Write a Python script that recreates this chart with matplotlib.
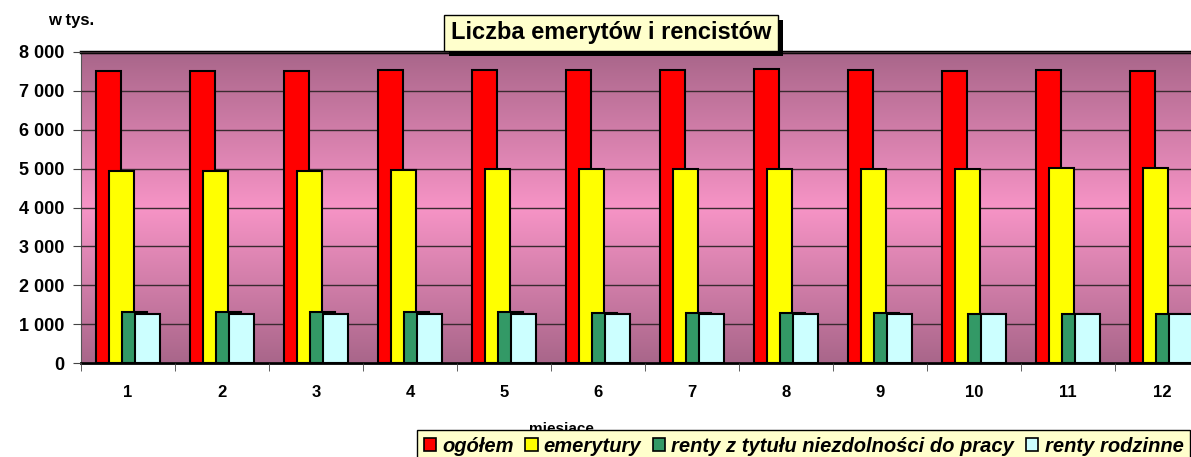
import numpy as np
import matplotlib.pyplot as plt
import matplotlib.patheffects as pe
from matplotlib.colors import LinearSegmentedColormap
from matplotlib.patches import Patch

# dane (w tys.)
miesiace = ["1", "2", "3", "4", "5", "6", "7", "8", "9", "10", "11", "12"]
ogolem = [7510, 7500, 7520, 7530, 7540, 7540, 7540, 7550, 7530, 7520, 7530, 7520]
emerytury = [4930, 4940, 4950, 4970, 4980, 4990, 4990, 5000, 5000, 5000, 5010, 5010]
renty_niezdolnosc = [1320, 1310, 1310, 1300, 1300, 1290, 1280, 1280, 1280, 1270, 1260, 1260]
renty_rodzinne = [1270, 1260, 1260, 1260, 1270, 1270, 1270, 1270, 1250, 1250, 1260, 1270]

serie = [ogolem, emerytury, renty_niezdolnosc, renty_rodzinne]
nazwy = ["ogółem", "emerytury", "renty z tytułu niezdolności do pracy", "renty rodzinne"]
kolory = ["#FF0000", "#FFFF00", "#339966", "#CCFFFF"]

plt.rcParams['font.family'] = ['Liberation Sans', 'DejaVu Sans']

fig = plt.figure(figsize=(11.91, 4.57), dpi=100)
ax = fig.add_axes([81/1191, 1 - 363/457, 1128/1191, 311/457])

# tło - gradient
cmap = LinearSegmentedColormap.from_list("tlo", ["#A9668A", "#F794C6", "#A9668A"])
grad = np.linspace(0, 1, 256).reshape(-1, 1)
ax.imshow(grad, cmap=cmap, aspect='auto', extent=[0, 12, 0, 8000],
          origin='lower', zorder=0, interpolation='bicubic')

x = np.arange(len(miesiace))
w = 0.266
step = 0.135
for i, (vals, kol, nazwa) in enumerate(zip(serie, kolory, nazwy)):
    pos = x + 0.5 + (i - 1.5) * step
    ax.bar(pos, vals, width=w, color=kol, edgecolor='black', linewidth=1.5,
           zorder=3 + i, label=nazwa)

ax.set_xlim(0, 12)
ax.set_ylim(0, 8000)
ax.set_yticks(range(0, 8001, 1000))
ax.set_yticklabels([f"{v:,}".replace(",", " ") for v in range(0, 8001, 1000)],
                   fontsize=13, fontweight='bold')
ax.yaxis.grid(True, color='#3a2a30', linewidth=1, zorder=1)
ax.set_axisbelow(False)

ax.set_xticks(x + 0.5)
ax.set_xticklabels(miesiace, fontsize=12, fontweight='bold')
ax.set_xticks(np.arange(0, 13), minor=True)
ax.tick_params(axis='x', which='major', length=0, pad=16)
ax.tick_params(axis='x', which='minor', length=6, color='#444444')
ax.tick_params(axis='y', length=6, color='#444444', pad=6)

ax.spines['right'].set_visible(False)
ax.spines['top'].set_linewidth(2.5)
ax.spines['bottom'].set_linewidth(2)
ax.spines['left'].set_color('#555555')

ax.set_xlabel("miesiące", fontsize=11, fontweight='bold')
ax.xaxis.set_label_coords((561 - 81) / 1128, -(422 - 363) / 311)

fig.text(48/1191, 1 - 20/457, "w tys.", fontsize=12, fontweight='bold', va='center')

# tytuł z cieniem
t = fig.text(611/1191, 1 - 33/457, "Liczba emerytów i rencistów", fontsize=17,
             fontweight='bold', ha='center', va='center',
             bbox=dict(boxstyle='square,pad=0.28', facecolor='#FFFFCC', edgecolor='black',
                       linewidth=1))
t.get_bbox_patch().set_path_effects([pe.SimplePatchShadow(offset=(3.5, -3.5), shadow_rgbFace='black', alpha=1),
                                     pe.Normal()])

# legenda
uchwyty = [Patch(facecolor=k, edgecolor='black', linewidth=1.2) for k in kolory]
leg = fig.legend(uchwyty, nazwy, loc='lower right', bbox_to_anchor=(1.008, -0.035),
                 ncol=4, frameon=True, fancybox=False, borderpad=0.35,
                 handlelength=0.6, handleheight=0.6, handletextpad=0.3, columnspacing=0.6,
                 prop={'family': ['Liberation Sans', 'DejaVu Sans'],
                       'weight': 'bold', 'style': 'italic', 'size': 14.5})
leg.get_frame().set_facecolor('#FFFFCC')
leg.get_frame().set_edgecolor('black')
leg.get_frame().set_alpha(1)
leg.set_zorder(10)

fig.savefig("out.png", dpi=100)
